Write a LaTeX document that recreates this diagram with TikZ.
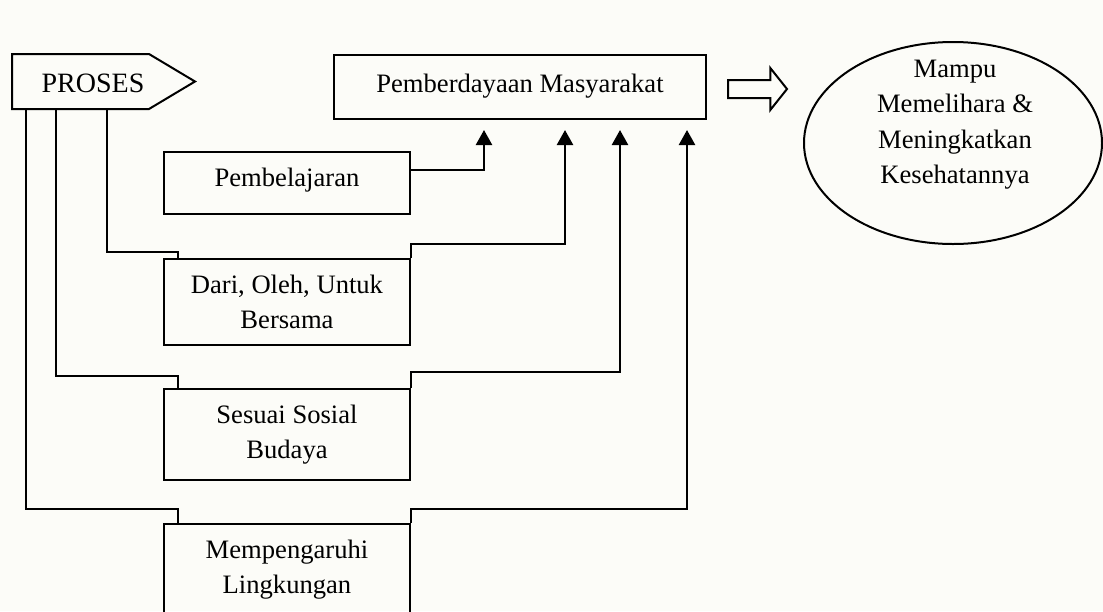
\documentclass[tikz,border=0pt]{standalone}
\usepackage{fontspec}
\setmainfont{Liberation Serif}
\usetikzlibrary{arrows.meta,shapes.geometric,shapes.arrows}
\definecolor{paper}{HTML}{FCFCF8}
\begin{document}
\begin{tikzpicture}[x=1pt,y=-1pt,
  box/.style={draw, line width=2pt, minimum width=246pt, inner sep=0pt, anchor=north west},
  wire/.style={line width=2.4pt},
  flow/.style={wire, -{Triangle[length=15pt,width=16pt]}},
  txt/.style={align=center, inner sep=0pt, anchor=north, font=\fontsize{26.6}{35.5}\selectfont}
]
% page
\fill[paper] (0,0) rectangle (1103,611);
\clip (0,0) rectangle (1103,611);

% PROSES tag
\node[box, draw=none, minimum width=135pt, minimum height=53pt] (proses) at (12,54) {};
\draw[line width=2pt, line join=miter] (proses.north west) -- (proses.north east)
  -- ([xshift=46pt]proses.east) -- (proses.south east) -- (proses.south west) -- cycle;
\node[txt, font=\fontsize{28}{35.5}\selectfont] (prosesT) at ([xshift=12.5pt,yshift=-13pt]proses.north) {\strut PROSES};

% boxes
\node[box, minimum width=372pt, minimum height=64pt] (pm) at (333,54) {};
\node[txt] (pmT) at ([yshift=-13pt]pm.north) {\strut Pemberdayaan Masyarakat};

\node[box, minimum height=62pt] (pb) at (163,151) {};
\node[txt] (pbT) at ([yshift=-10pt]pb.north) {\strut Pembelajaran};

\node[box, minimum height=86pt] (dr) at (163,258) {};
\node[txt] (drT) at ([yshift=-10pt]dr.north) {\strut Dari, Oleh, Untuk\\Bersama};

\node[box, minimum height=91pt] (ss) at (163,388) {};
\node[txt] (ssT) at ([yshift=-10pt]ss.north) {\strut Sesuai Sosial\\Budaya};

\node[box, minimum height=120pt] (mp) at (163,523) {};
\node[txt] (mpT) at ([yshift=-10pt]mp.north) {\strut Mempengaruhi\\Lingkungan};

% outcome
\node[draw, ellipse, line width=2pt, minimum width=298pt, minimum height=202pt, inner sep=0pt] (goal) at (953,143) {};
\node[txt] (goalT) at ([xshift=2pt,yshift=-11pt]goal.north) {\strut Mampu\\Memelihara \&\\Meningkatkan\\Kesehatannya};

% hollow arrow towards the outcome
\node[single arrow, draw, line width=2pt, anchor=tail, minimum height=59pt, minimum width=40pt,
  inner sep=8pt, single arrow head extend=12pt, single arrow tip angle=103] (out)
  at ([xshift=20pt,yshift=-2pt]pm.east) {};

% branches from PROSES
\draw[wire] ([xshift=14pt]proses.south west) |- ([xshift=15pt,yshift=14pt]mp.north west) -- ([xshift=15pt]mp.north west);
\draw[wire] ([xshift=44pt]proses.south west) |- ([xshift=15pt,yshift=12pt]ss.north west) -- ([xshift=15pt]ss.north west);
\draw[wire] ([xshift=95pt]proses.south west) |- ([xshift=15pt,yshift=6pt]dr.north west) -- ([xshift=15pt]dr.north west);

% feeds into Pemberdayaan Masyarakat
\draw[flow] ([yshift=13pt]pb.east) -| ([xshift=151pt,yshift=-10pt]pm.south west);
\draw[flow] (dr.north east) -- ++(0,-14) -| ([xshift=232pt,yshift=-10pt]pm.south west);
\draw[flow] (ss.north east) -- ++(0,-16) -| ([xshift=287pt,yshift=-10pt]pm.south west);
\draw[flow] (mp.north east) -- ++(0,-14) -| ([xshift=354pt,yshift=-10pt]pm.south west);
\end{tikzpicture}
\end{document}
